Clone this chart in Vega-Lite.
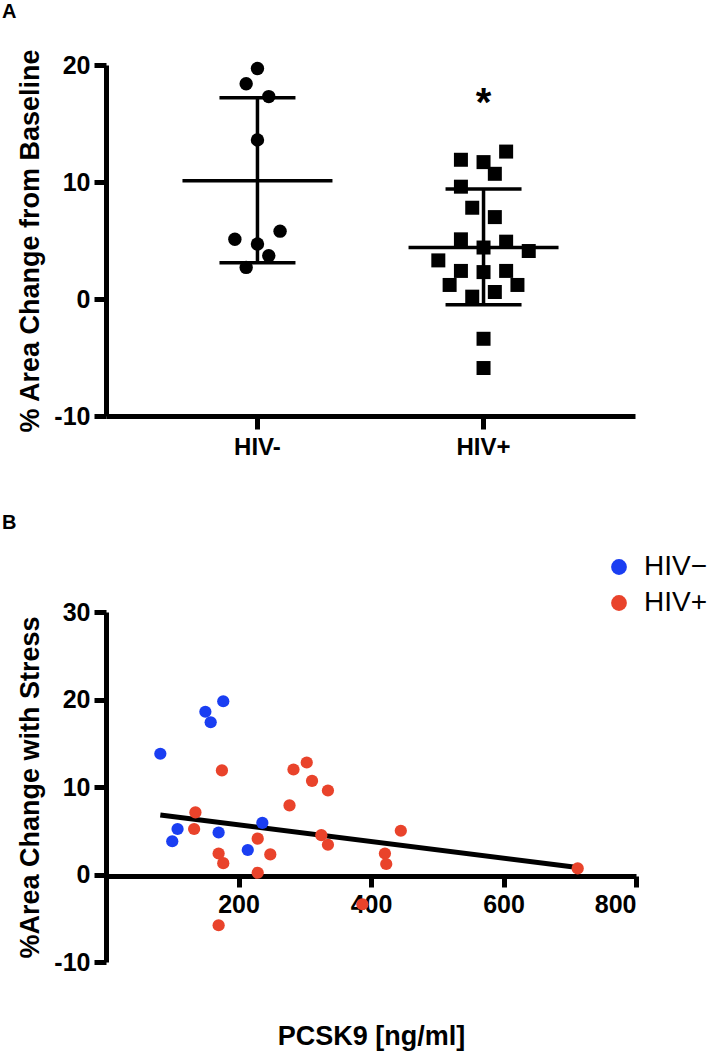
{
  "$schema": "https://vega.github.io/schema/vega-lite/v6.json",
  "padding": {"left": 2, "top": 2, "right": 2, "bottom": 2},
  "background": "white",
  "config": {
    "view": {"stroke": null},
    "font": "Liberation Sans",
    "axis": {
      "grid": false,
      "domainColor": "black",
      "domainWidth": 5,
      "tickColor": "black",
      "tickWidth": 5,
      "tickSize": 12,
      "labelFont": "Liberation Sans",
      "labelFontSize": 25,
      "labelFontWeight": "bold",
      "labelColor": "black",
      "labelPadding": 4,
      "titleFont": "Liberation Sans",
      "titleFontSize": 27,
      "titleFontWeight": "bold",
      "titleColor": "black",
      "titlePadding": 9
    }
  },
  "datasets": {
    "pointsA": [
      {"group": "HIV-", "value": 19.7, "col": 0},
      {"group": "HIV-", "value": 18.4, "col": -1},
      {"group": "HIV-", "value": 17.3, "col": 1},
      {"group": "HIV-", "value": 13.6, "col": 0},
      {"group": "HIV-", "value": 5.8, "col": 2},
      {"group": "HIV-", "value": 5.1, "col": -2},
      {"group": "HIV-", "value": 4.7, "col": 0},
      {"group": "HIV-", "value": 3.7, "col": 1},
      {"group": "HIV-", "value": 2.7, "col": -1},
      {"group": "HIV+", "value": 12.6, "col": 2},
      {"group": "HIV+", "value": 11.9, "col": -2},
      {"group": "HIV+", "value": 11.7, "col": 0},
      {"group": "HIV+", "value": 10.7, "col": 1},
      {"group": "HIV+", "value": 9.6, "col": -2},
      {"group": "HIV+", "value": 7.8, "col": -1},
      {"group": "HIV+", "value": 7.0, "col": 1},
      {"group": "HIV+", "value": 5.1, "col": -2},
      {"group": "HIV+", "value": 4.9, "col": 2},
      {"group": "HIV+", "value": 4.4, "col": 0},
      {"group": "HIV+", "value": 4.1, "col": 4},
      {"group": "HIV+", "value": 3.3, "col": -4},
      {"group": "HIV+", "value": 2.4, "col": -2},
      {"group": "HIV+", "value": 2.3, "col": 0},
      {"group": "HIV+", "value": 2.4, "col": 2},
      {"group": "HIV+", "value": 1.2, "col": -3},
      {"group": "HIV+", "value": 1.2, "col": 3},
      {"group": "HIV+", "value": 0.6, "col": 1},
      {"group": "HIV+", "value": 0.2, "col": -1},
      {"group": "HIV+", "value": -3.4, "col": 0},
      {"group": "HIV+", "value": -5.9, "col": 0}
    ],
    "summaryA": [
      {"group": "HIV-", "mean": 10.1, "sd_lo": 3.1, "sd_hi": 17.2},
      {"group": "HIV+", "mean": 4.4, "sd_lo": -0.5, "sd_hi": 9.4}
    ],
    "noteA": [
      {"group": "HIV+", "value": 15.65, "label": "*"}
    ],
    "pointsB": [
      {"group": "HIV−", "pcsk9": 82, "pct": 13.8},
      {"group": "HIV−", "pcsk9": 150, "pct": 18.6},
      {"group": "HIV−", "pcsk9": 158, "pct": 17.4},
      {"group": "HIV−", "pcsk9": 177, "pct": 19.8},
      {"group": "HIV−", "pcsk9": 108, "pct": 5.2},
      {"group": "HIV−", "pcsk9": 100, "pct": 3.8},
      {"group": "HIV−", "pcsk9": 170, "pct": 4.8},
      {"group": "HIV−", "pcsk9": 214, "pct": 2.8},
      {"group": "HIV−", "pcsk9": 236, "pct": 5.9},
      {"group": "HIV+", "pcsk9": 175, "pct": 11.9},
      {"group": "HIV+", "pcsk9": 135, "pct": 7.1},
      {"group": "HIV+", "pcsk9": 133, "pct": 5.2},
      {"group": "HIV+", "pcsk9": 170, "pct": 2.4},
      {"group": "HIV+", "pcsk9": 177, "pct": 1.3},
      {"group": "HIV+", "pcsk9": 229, "pct": 4.1},
      {"group": "HIV+", "pcsk9": 248, "pct": 2.3},
      {"group": "HIV+", "pcsk9": 229, "pct": 0.2},
      {"group": "HIV+", "pcsk9": 277, "pct": 7.9},
      {"group": "HIV+", "pcsk9": 283, "pct": 12.0},
      {"group": "HIV+", "pcsk9": 303, "pct": 12.8},
      {"group": "HIV+", "pcsk9": 311, "pct": 10.7},
      {"group": "HIV+", "pcsk9": 335, "pct": 9.6},
      {"group": "HIV+", "pcsk9": 325, "pct": 4.5},
      {"group": "HIV+", "pcsk9": 335, "pct": 3.4},
      {"group": "HIV+", "pcsk9": 445, "pct": 5.0},
      {"group": "HIV+", "pcsk9": 421, "pct": 2.4},
      {"group": "HIV+", "pcsk9": 423, "pct": 1.2},
      {"group": "HIV+", "pcsk9": 712, "pct": 0.7},
      {"group": "HIV+", "pcsk9": 170, "pct": -5.8},
      {"group": "HIV+", "pcsk9": 387, "pct": -3.4}
    ],
    "fitB": [
      {"pcsk9": 82, "pct": 6.8},
      {"pcsk9": 712, "pct": 0.8}
    ]
  },
  "vconcat": [
    {
      "width": 529,
      "height": 351,
      "title": {"text": "A", "anchor": "start", "frame": "group", "dx": -104, "fontSize": 20, "fontWeight": "bold", "color": "black", "offset": 26},
      "encoding": {
        "x": {
          "field": "group", "type": "nominal",
          "scale": {"domain": ["HIV-", "HIV+"], "paddingInner": 0, "paddingOuter": 0.17},
          "axis": {"title": null, "labelAngle": 0, "labelFontSize": 24, "tickSize": 13, "labelPadding": 6}
        },
        "y": {
          "type": "quantitative",
          "scale": {"domain": [-10, 20], "nice": false, "zero": false},
          "axis": {"values": [-10, 0, 10, 20], "title": "% Area Change from Baseline", "labelExpr": "replace(datum.label, '−', '-')"}
        }
      },
      "layer": [
        {
          "data": {"name": "summaryA"},
          "mark": {"type": "rule", "color": "black", "strokeWidth": 3.5},
          "encoding": {"y": {"field": "sd_lo", "type": "quantitative"}, "y2": {"field": "sd_hi"}}
        },
        {
          "data": {"name": "summaryA"},
          "mark": {"type": "tick", "color": "black", "size": 150, "thickness": 3.5, "opacity": 1},
          "encoding": {"y": {"field": "mean", "type": "quantitative"}}
        },
        {
          "data": {"name": "summaryA"},
          "mark": {"type": "tick", "color": "black", "size": 76, "thickness": 3.5, "opacity": 1},
          "encoding": {"y": {"field": "sd_lo", "type": "quantitative"}}
        },
        {
          "data": {"name": "summaryA"},
          "mark": {"type": "tick", "color": "black", "size": 76, "thickness": 3.5, "opacity": 1},
          "encoding": {"y": {"field": "sd_hi", "type": "quantitative"}}
        },
        {
          "data": {"name": "pointsA"},
          "transform": [{"filter": "datum.group === 'HIV-'"}],
          "mark": {"type": "circle", "color": "black", "size": 180, "opacity": 1},
          "encoding": {
            "y": {"field": "value", "type": "quantitative"},
            "xOffset": {"field": "col", "type": "ordinal", "scale": {"domain": [-10,-9,-8,-7,-6,-5,-4,-3,-2,-1,0,1,2,3,4,5,6,7,8,9,10], "paddingInner": 0, "paddingOuter": 0}}
          }
        },
        {
          "data": {"name": "pointsA"},
          "transform": [{"filter": "datum.group === 'HIV+'"}],
          "mark": {"type": "square", "color": "black", "size": 196, "opacity": 1},
          "encoding": {
            "y": {"field": "value", "type": "quantitative"},
            "xOffset": {"field": "col", "type": "ordinal"}
          }
        },
        {
          "data": {"name": "noteA"},
          "mark": {"type": "text", "fontSize": 40, "fontWeight": "bold", "color": "black", "baseline": "alphabetic", "align": "center"},
          "encoding": {"y": {"field": "value", "type": "quantitative"}, "text": {"field": "label"}}
        }
      ]
    },
    {
      "width": 530,
      "height": 350,
      "title": {"text": "B", "anchor": "start", "frame": "group", "dx": -104, "fontSize": 20, "fontWeight": "bold", "color": "black", "offset": 20},
      "encoding": {
        "x": {
          "field": "pcsk9", "type": "quantitative",
          "scale": {"domain": [0, 800], "nice": false},
          "axis": {"values": [200, 400, 600, 800], "offset": -86, "tickSize": 11, "labelPadding": 5, "title": "PCSK9 [ng/ml]", "titlePadding": 106}
        },
        "y": {
          "field": "pct", "type": "quantitative",
          "scale": {"domain": [-10, 30], "nice": false, "zero": false},
          "axis": {"values": [-10, 0, 10, 20, 30], "title": "%Area Change with Stress", "labelExpr": "replace(datum.label, '−', '-')"}
        }
      },
      "layer": [
        {
          "data": {"name": "fitB"},
          "mark": {"type": "line", "color": "black", "strokeWidth": 5},
          "encoding": {}
        },
        {
          "data": {"name": "pointsB"},
          "mark": {"type": "circle", "size": 150, "opacity": 1},
          "encoding": {
            "color": {
              "field": "group", "type": "nominal",
              "scale": {"domain": ["HIV−", "HIV+"], "range": ["#1a3ef2", "#e9432b"]},
              "legend": {
                "title": null, "orient": "none", "legendX": 499, "legendY": -59,
                "symbolType": "circle", "symbolSize": 250, "symbolStrokeWidth": 0,
                "labelFont": "Liberation Sans", "labelFontSize": 28, "labelFontWeight": "normal", "labelColor": "black",
                "labelOffset": 11, "rowPadding": 8
              }
            }
          }
        }
      ]
    }
  ],
  "spacing": 54,
  "resolve": {"scale": {"x": "independent", "y": "independent", "color": "independent", "xOffset": "independent"}}
}
